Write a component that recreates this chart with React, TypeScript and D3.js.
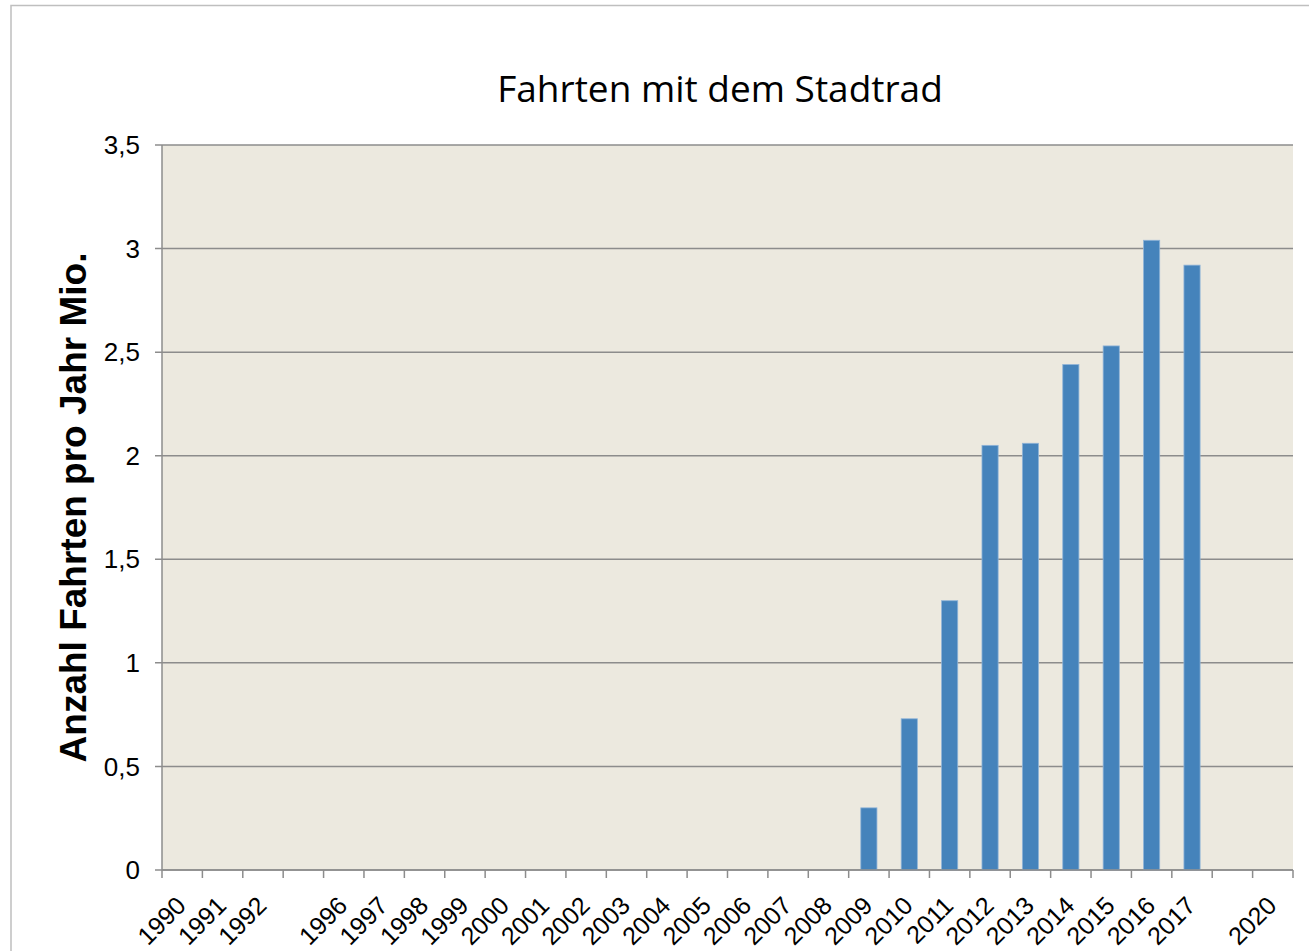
import React from "react";
import * as d3 from "d3";

const categories = ["1990","1991","1992","","1996","1997","1998","1999","2000","2001","2002","2003","2004","2005","2006","2007","2008","2009","2010","2011","2012","2013","2014","2015","2016","2017","","2020"];
const values: (number | null)[] = [null,null,null,null,null,null,null,null,null,null,null,null,null,null,null,null,null,0.30,0.73,1.30,2.05,2.06,2.44,2.53,3.04,2.92,null,null];
const yTicks = [0, 0.5, 1, 1.5, 2, 2.5, 3, 3.5];
const yTickLabels = ["0","0,5","1","1,5","2","2,5","3","3,5"];
const title = "Fahrten mit dem Stadtrad";
const yTitle = "Anzahl Fahrten pro Jahr Mio.";

export default function App() {
  const W = 1309, H = 951;
  const left = 162, right = 1293, top = 145, bottom = 870;
  const x = d3.scaleBand<number>().domain(d3.range(categories.length)).range([left, right]).paddingInner(0.6).paddingOuter(0.3);
  const xb = d3.scaleBand<number>().domain(d3.range(categories.length)).range([left, right]);
  const y = d3.scaleLinear().domain([0, 3.5]).range([bottom, top]);
  const grey = "#8c8c8c";
  return (
    <svg width={W} height={H} style={{ position: "absolute", left: 0, top: 0 }}>
      <rect x={0} y={0} width={W} height={H} fill="#fff" />
      <rect x={11} y={5.5} width={W + 20} height={H + 20} fill="none" stroke="#bfbfbf" strokeWidth={1.5} />
      <text x={720} y={102} textAnchor="middle" fontFamily="'Open Sans', sans-serif" fontSize={37} fill="#000">{title}</text>
      <rect x={left} y={top} width={right - left} height={bottom - top} fill="#ECE9DF" />
      {yTicks.map((t, i) => (
        <g key={i}>
          <line x1={155} x2={right} y1={y(t)} y2={y(t)} stroke={grey} strokeWidth={1.5} />
          <text x={140} y={y(t)} dy="0.35em" textAnchor="end" fontFamily="'Liberation Sans', Arial, sans-serif" fontSize={26} fill="#000">{yTickLabels[i]}</text>
        </g>
      ))}
      {values.map((v, i) => v == null ? null : (
        <rect key={i} x={x(i)!} y={y(v)} width={x.bandwidth()} height={bottom - y(v)} fill="#4583BB" stroke="#8fb4d8" strokeWidth={0.8} />
      ))}
      <line x1={left} x2={left} y1={top} y2={bottom} stroke={grey} strokeWidth={1.5} />
      <line x1={left} x2={right} y1={bottom} y2={bottom} stroke={grey} strokeWidth={1.5} />
      {d3.range(categories.length + 1).map(i => {
        const xx = i < categories.length ? xb(i)! : right;
        return <line key={i} x1={xx} x2={xx} y1={bottom} y2={bottom + 8} stroke={grey} strokeWidth={1.5} />;
      })}
      {categories.map((c, i) => {
        const cx = xb(i)! + xb.bandwidth() / 2;
        return (
          <text key={i} transform={`translate(${cx - 1},${bottom + 31}) rotate(-45)`} textAnchor="end" dy="0.35em" fontFamily="'Liberation Sans', Arial, sans-serif" fontSize={25} fill="#000">{c}</text>
        );
      })}
      <text transform={`translate(86,${(top + bottom) / 2}) rotate(-90)`} textAnchor="middle" fontFamily="'Liberation Sans', Arial, sans-serif" fontWeight="bold" fontSize={37} fill="#000">{yTitle}</text>
    </svg>
  );
}
